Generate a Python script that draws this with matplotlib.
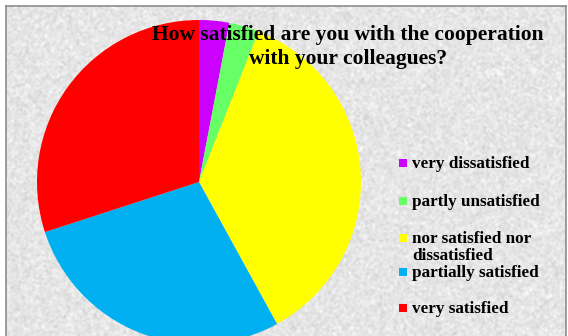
import numpy as np
import matplotlib
matplotlib.use("Agg")
import matplotlib.pyplot as plt
from matplotlib.patches import Rectangle

W, H = 568, 336

# survey answers, clockwise from 12 o'clock
labels = ["very dissatisfied", "partly unsatisfied", "nor satisfied nor\ndissatisfied",
          "partially satisfied", "very satisfied"]
shares = [3, 3, 36, 28, 30]
colors = ["#cc00ff", "#66ff66", "#ffff00", "#00b0f0", "#ff0000"]

title = "How satisfied are you with the cooperation\nwith your colleagues?"
legend_y = [163, 201, 238, 272, 308]   # pixel rows of the legend entries

fig = plt.figure(figsize=(W / 100, H / 100), dpi=100)
fig.patch.set_facecolor("white")

# granite-like paper background inside the frame
bg = fig.add_axes([6 / W, 0, (W - 8) / W, (H - 6) / H])
rng = np.random.default_rng(3)
grain = rng.normal(0, 1, (H, W))
k = np.ones(3) / 3
grain = np.apply_along_axis(lambda r: np.convolve(r, k, "same"), 1, grain)
grain = np.apply_along_axis(lambda c: np.convolve(c, k, "same"), 0, grain)
tex = np.clip(0.90 + 0.075 * grain, 0.74, 1.0)
bg.imshow(tex, cmap="gray", vmin=0, vmax=1, aspect="auto", interpolation="bilinear")
bg.set_xticks([])
bg.set_yticks([])
bg.spines["bottom"].set_visible(False)
for side in ("left", "top", "right"):
    bg.spines[side].set_color("#8c8c8c")
    bg.spines[side].set_linewidth(1.2)

# pie centred at (199, 182) px with radius 162 px
cx, cy, r = 199, 182, 162
ax = fig.add_axes([(cx - r) / W, (H - cy - r) / H, 2 * r / W, 2 * r / H])
ax.pie(shares, colors=colors, startangle=90, counterclock=False, radius=1,
       wedgeprops=dict(linewidth=0))
ax.set_xlim(-1, 1)
ax.set_ylim(-1, 1)
ax.axis("off")

serif = ["Liberation Serif", "DejaVu Serif"]
fig.text(348 / W, 1 - 47 / H, title, ha="center", va="center", fontsize=15.5,
         fontweight="bold", family=serif, linespacing=1.25, color="black")

sq = 8
for lab, col, y in zip(labels, colors, legend_y):
    fig.add_artist(Rectangle(((403 - sq / 2) / W, 1 - (y + sq / 2) / H), sq / W, sq / H,
                             transform=fig.transFigure, facecolor=col, edgecolor="none"))
    fig.text(412 / W, 1 - (y - 7) / H, lab, ha="left", va="top", multialignment="left",
             fontsize=12.3, fontweight="bold", family=serif, linespacing=1.05,
             color="black")

fig.savefig("out.png", dpi=100)
